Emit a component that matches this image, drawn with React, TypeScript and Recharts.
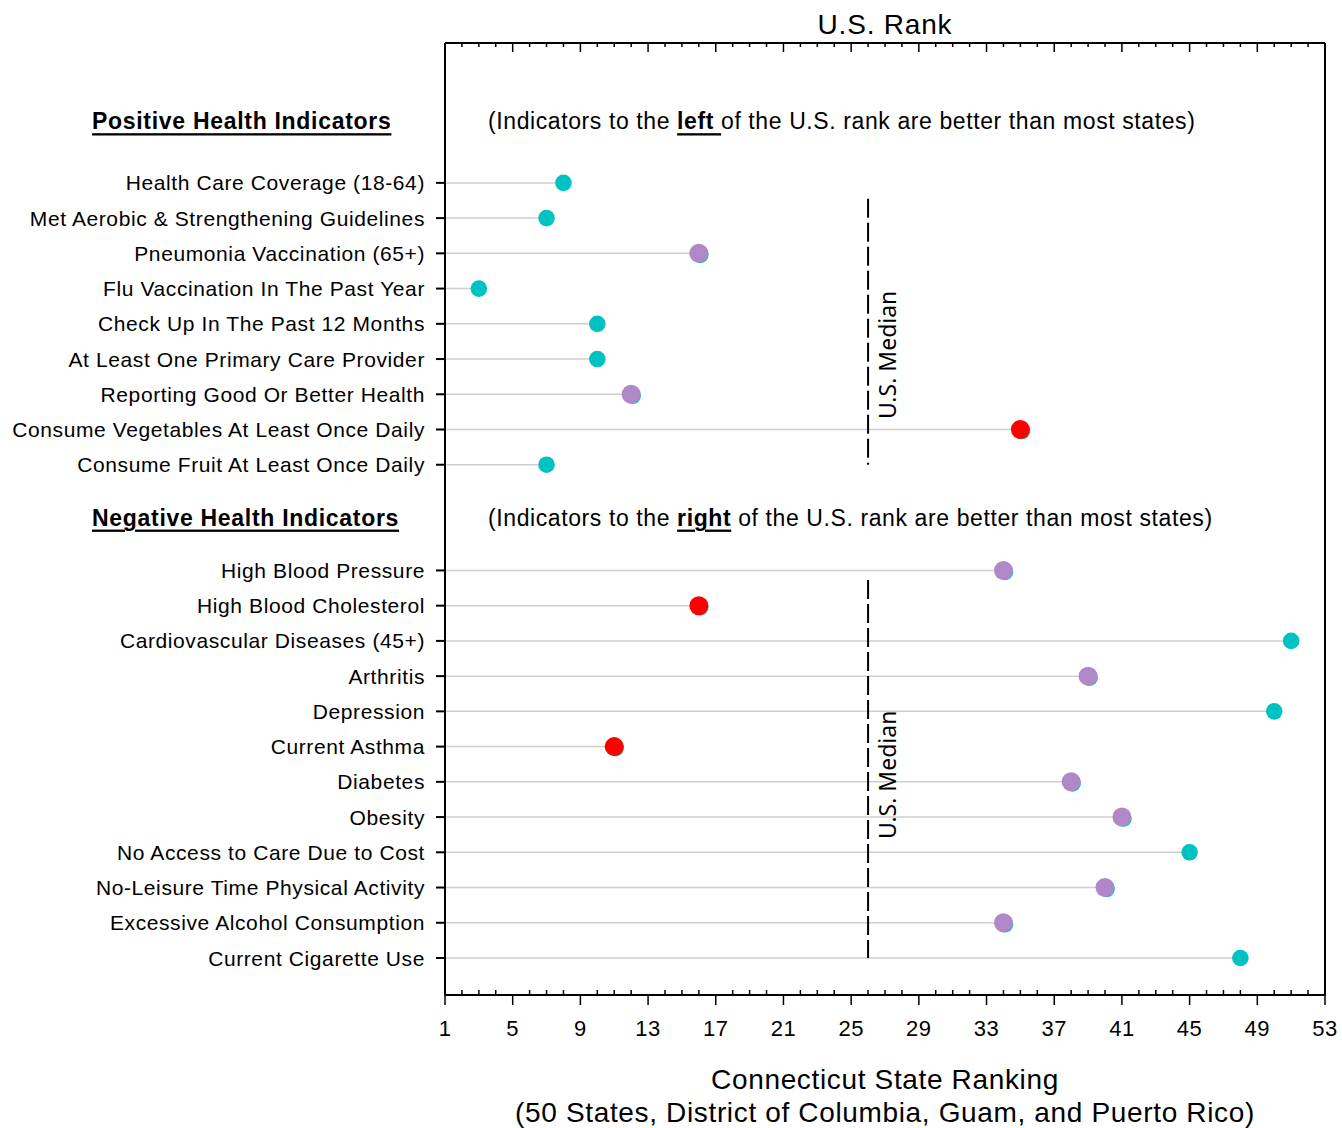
import {
  ReferenceDot,
  ReferenceLine,
  Scatter,
  ScatterChart,
  XAxis,
  YAxis,
} from "recharts";

const positiveLabels = [
  "Health Care Coverage (18-64)",
  "Met Aerobic & Strengthening Guidelines",
  "Pneumonia Vaccination (65+)",
  "Flu Vaccination In The Past Year",
  "Check Up In The Past 12 Months",
  "At Least One Primary Care Provider",
  "Reporting Good Or Better Health",
  "Consume Vegetables At Least Once Daily",
  "Consume Fruit At Least Once Daily",
];
const positiveRanks = [8, 7, 16, 3, 10, 10, 12, 35, 7];
const positiveGroups = ["teal", "teal", "purple", "teal", "teal", "teal", "purple", "red", "teal"];

const negativeLabels = [
  "High Blood Pressure",
  "High Blood Cholesterol",
  "Cardiovascular Diseases (45+)",
  "Arthritis",
  "Depression",
  "Current Asthma",
  "Diabetes",
  "Obesity",
  "No Access to Care Due to Cost",
  "No-Leisure Time Physical Activity",
  "Excessive Alcohol Consumption",
  "Current Cigarette Use",
];
const negativeRanks = [34, 16, 51, 39, 50, 11, 38, 41, 45, 40, 34, 48];
const negativeGroups = [
  "purple", "red", "teal", "purple", "teal", "red",
  "purple", "purple", "teal", "purple", "purple", "teal",
];

const positivePositions = [4, 5, 6, 7, 8, 9, 10, 11, 12];
const negativePositions = [15, 16, 17, 18, 19, 20, 21, 22, 23, 24, 25, 26];
const headerPositions = [2.25, 13.5];
const headerTitles = ["Positive Health Indicators", "Negative Health Indicators"];
const headerSides = ["left ", "right"];

const usMedian = 26;
const medianSpans = [
  [4.45, 12],
  [15.27, 26],
];
const medianLabelPos = [8.88, 20.8];

const rankTicks = Array.from({ length: 53 }, (_, i) => i + 1);

const colors: Record<string, string> = {
  teal: "#00c2c2",
  purple: "#b088c8",
  red: "#ff0000",
};

const rows = [
  ...positiveLabels.map((label, i) => ({
    label,
    pos: positivePositions[i],
    rank: positiveRanks[i],
    group: positiveGroups[i],
  })),
  ...negativeLabels.map((label, i) => ({
    label,
    pos: negativePositions[i],
    rank: negativeRanks[i],
    group: negativeGroups[i],
  })),
];

const FONT = "'Liberation Sans', Arial, sans-serif";

function RowTick(props: any) {
  const { x, y, payload } = props;
  const h = headerPositions.indexOf(payload.value);
  if (h >= 0) {
    return (
      <g>
        <text
          x={92}
          y={y}
          dominantBaseline="central"
          fontFamily={FONT}
          fontSize={23}
          letterSpacing={0.7}
          fontWeight="bold"
          fill="#000"
          style={{ textDecoration: "underline" }}
        >
          {headerTitles[h]}
        </text>
        <text
          x={x + 43}
          y={y}
          dominantBaseline="central"
          fontFamily={FONT}
          fontSize={23}
          letterSpacing={0.6}
          fill="#000"
        >
          <tspan>(Indicators to the </tspan>
          <tspan fontWeight="bold" style={{ textDecoration: "underline" }}>
            {headerSides[h]}
          </tspan>
          <tspan>{h === 0 ? "of the U.S. rank are better than most states)" : " of the U.S. rank are better than most states)"}</tspan>
        </text>
      </g>
    );
  }
  const row = rows.find((r) => r.pos === payload.value);
  return (
    <g>
      <line x1={x - 9} x2={x} y1={y} y2={y} stroke="#000" strokeWidth={2} />
      <text
        x={x - 20}
        y={y}
        textAnchor="end"
        dominantBaseline="central"
        fontFamily={FONT}
        fontSize={21}
        letterSpacing={0.6}
        fill="#000"
      >
        {row ? row.label : ""}
      </text>
    </g>
  );
}

function BottomTick(props: any) {
  const { x, y, payload } = props;
  const major = (payload.value - 1) % 4 === 0;
  if (!major) {
    return <line x1={x} x2={x} y1={y - 5} y2={y} stroke="#000" strokeWidth={1.5} />;
  }
  return (
    <g>
      <line x1={x} x2={x} y1={y} y2={y + 10} stroke="#000" strokeWidth={1.5} />
      <text
        x={x}
        y={y + 33}
        textAnchor="middle"
        dominantBaseline="central"
        fontFamily={FONT}
        fontSize={22}
        letterSpacing={0.5}
        fill="#000"
      >
        {payload.value}
      </text>
    </g>
  );
}

function TopTick(props: any) {
  const { x, y, payload } = props;
  const major = (payload.value - 1) % 4 === 0;
  return <line x1={x} x2={x} y1={y} y2={y + (major ? 9 : 4)} stroke="#000" strokeWidth={1.5} />;
}

function Dot(props: any) {
  const { cx, cy, payload } = props;
  if (payload.group === "teal") {
    return <circle cx={cx} cy={cy} r={8.3} fill={colors.teal} />;
  }
  return (
    <g>
      <circle cx={cx + 1.5} cy={cy + 1.5} r={8.3} fill={colors.teal} />
      <circle cx={cx} cy={cy} r={9.5} fill={colors[payload.group]} />
    </g>
  );
}

function NoDot() {
  return <g />;
}

function MedianLabel(props: any) {
  const { viewBox } = props;
  const x = viewBox.x + 19;
  const y = viewBox.y;
  return (
    <text
      x={x}
      y={y}
      transform={`rotate(-90 ${x} ${y})`}
      textAnchor="middle"
      dominantBaseline="central"
      fontFamily="'Noto Sans', sans-serif"
      fontSize={23}
      fill="#000"
    >
      U.S. Median
    </text>
  );
}

export default function App() {
  return (
    <div style={{ position: "absolute", left: 0, top: 0, width: 1342, height: 1128, background: "#fff" }}>
      <div
        style={{
          position: "absolute",
          left: 385,
          width: 1000,
          top: 7,
          textAlign: "center",
          fontFamily: FONT,
          fontSize: 28,
          letterSpacing: 0.8,
          lineHeight: "36px",
        }}
      >
        U.S. Rank
      </div>
      <div
        style={{
          position: "absolute",
          left: 385,
          width: 1000,
          top: 1063,
          textAlign: "center",
          fontFamily: FONT,
          fontSize: 28,
          letterSpacing: 0.65,
          lineHeight: "33px",
        }}
      >
        Connecticut State Ranking
        <br />
        (50 States, District of Columbia, Guam, and Puerto Rico)
      </div>
      <ScatterChart
        width={1342}
        height={1128}
        margin={{ top: 33, right: 17, bottom: 0, left: 0 }}
        style={{ position: "absolute", left: 0, top: 0 }}
      >
        <XAxis
          xAxisId="top"
          orientation="top"
          type="number"
          dataKey="rank"
          domain={[1, 53]}
          ticks={rankTicks}
          interval={0}
          height={10}
          tickSize={0}
          tickMargin={0}
          tickLine={false}
          axisLine={{ stroke: "#000", strokeWidth: 2 }}
          tick={<TopTick />}
        />
        <XAxis
          xAxisId="bottom"
          orientation="bottom"
          type="number"
          dataKey="rank"
          domain={[1, 53]}
          ticks={rankTicks}
          interval={0}
          height={133}
          tickSize={0}
          tickMargin={0}
          tickLine={false}
          axisLine={{ stroke: "#000", strokeWidth: 2 }}
          tick={<BottomTick />}
        />
        <YAxis
          type="number"
          dataKey="pos"
          domain={[0.03, 27.05]}
          allowDataOverflow
          reversed
          ticks={[...headerPositions, ...positivePositions, ...negativePositions]}
          interval={0}
          width={445}
          tickSize={0}
          tickMargin={0}
          tickLine={false}
          axisLine={{ stroke: "#000", strokeWidth: 2 }}
          tick={<RowTick />}
        />
        <ReferenceLine xAxisId="bottom" x={53} stroke="#000" strokeWidth={2} />
        {rows.map((r) => (
          <ReferenceLine
            key={r.label}
            xAxisId="bottom"
            segment={[
              { x: 1, y: r.pos },
              { x: r.rank, y: r.pos },
            ]}
            stroke="#cfcfcf"
            strokeWidth={1.5}
          />
        ))}
        {medianSpans.map((s, i) => (
          <ReferenceLine
            key={"m" + i}
            xAxisId="bottom"
            segment={[
              { x: usMedian, y: s[0] },
              { x: usMedian, y: s[1] },
            ]}
            stroke="#000"
            strokeWidth={2}
            strokeDasharray="19 5"
          />
        ))}
        {medianLabelPos.map((p, i) => (
          <ReferenceDot
            key={"ml" + i}
            xAxisId="bottom"
            x={usMedian}
            y={p}
            r={0}
            stroke="none"
            fill="none"
            label={<MedianLabel />}
          />
        ))}
        <Scatter xAxisId="top" data={rows} shape={<NoDot />} isAnimationActive={false} />
        <Scatter xAxisId="bottom" data={rows} shape={<Dot />} isAnimationActive={false} />
      </ScatterChart>
    </div>
  );
}
